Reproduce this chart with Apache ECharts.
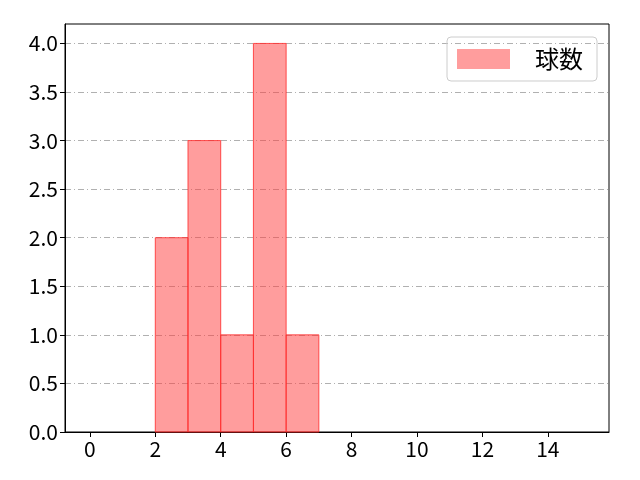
<!DOCTYPE html>
<html>
<head>
<meta charset="utf-8">
<script src="https://cdn.jsdelivr.net/npm/echarts@6/dist/echarts.min.js"></script>
<style>
  html, body { margin: 0; padding: 0; background: #fff; }
  #chart { width: 640px; height: 480px; }
</style>
</head>
<body>
<div id="chart"></div>
<script>
"use strict";

const binStarts = [2, 3, 4, 5, 6];
const binEnds = [3, 4, 5, 6, 7];
const counts = [2, 3, 1, 4, 1];
const xTicks = [0, 2, 4, 6, 8, 10, 12, 14];
const seriesName = "球数";

const font = "Noto Sans CJK JP";
const chart = echarts.init(document.getElementById("chart"));

const data = binStarts.map((s, i) => [s, binEnds[i], counts[i]]);

chart.setOption({
  animation: false,
  grid: { left: 65, right: 31, top: 24, bottom: 48, show: true, borderColor: "#000", borderWidth: 1 },
  legend: {
    right: 43, top: 37,
    itemWidth: 53, itemHeight: 20, itemGap: 10,
    padding: [10, 14, 10, 10],
    borderColor: "#ccc", borderWidth: 1, borderRadius: 4,
    textStyle: { fontFamily: font, fontSize: 24, color: "#000", padding: [0, 0, 0, 20] },
    data: [{ name: seriesName, icon: "rect" }]
  },
  xAxis: {
    type: "value", min: -0.76, max: 15.87,
    axisLine: { onZero: false, lineStyle: { color: "#000" } },
    axisTick: { show: true, length: 5, lineStyle: { color: "#000" }, customValues: xTicks },
    axisLabel: { fontFamily: font, fontSize: 21, color: "#000", margin: 7, customValues: xTicks },
    splitLine: { show: false }
  },
  yAxis: {
    type: "value", min: 0, max: 4.2, interval: 0.5,
    axisLine: { show: true, onZero: false, lineStyle: { color: "#000" } },
    axisTick: { show: true, length: 5, lineStyle: { color: "#000" } },
    axisLabel: { fontFamily: font, fontSize: 21, color: "#000", margin: 7, showMaxLabel: false, formatter: (v) => v.toFixed(1) },
    splitLine: { show: true, showMaxLine: false, lineStyle: { color: "#b0b0b0", width: 1, type: [6, 3, 1, 3] } }
  },
  series: [{
    name: seriesName,
    type: "custom",
    itemStyle: { color: "rgba(255,60,60,0.5)", borderColor: "rgba(255,40,40,0.8)" },
    renderItem: (params, api) => {
      const p0 = api.coord([api.value(0), api.value(2)]);
      const p1 = api.coord([api.value(1), 0]);
      return {
        type: "rect",
        shape: { x: p0[0], y: p0[1], width: p1[0] - p0[0], height: p1[1] - p0[1] },
        style: { fill: "rgba(255,60,60,0.5)", stroke: "rgba(255,40,40,0.8)", lineWidth: 1 }
      };
    },
    encode: { x: [0, 1], y: 2 },
    data: data
  }]
});
</script>
</body>
</html>
